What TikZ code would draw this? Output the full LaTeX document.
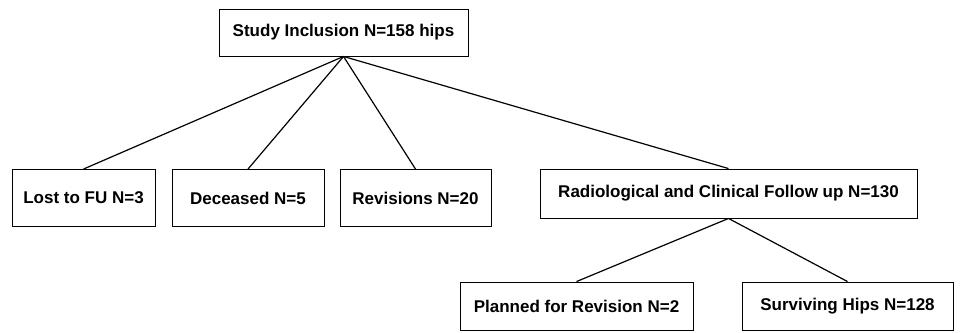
\documentclass[tikz,border=0pt]{standalone}
\usepackage{fontspec}
\setmainfont{Liberation Sans}
\begin{document}
\begin{tikzpicture}[x=1pt,y=-1pt,
  box/.style={draw=black,line width=0.9pt,fill=white,inner sep=0pt,font=\bfseries\fontsize{17}{20}\selectfont},
  link/.style={draw=black,line width=1.2pt}]
\useasboundingbox (0,0) rectangle (976,332);
\node[box,minimum width=249pt,minimum height=47pt] (top) at (343.5,32.5) {Study Inclusion N=158 hips};
\node[box,minimum width=143pt,minimum height=57pt] (lost) at (83.5,198) {Lost to FU N=3};
\node[box,minimum width=152pt,minimum height=57pt] (dec) at (248,198) {Deceased N=5};
\node[box,minimum width=151pt,minimum height=57pt] (rev) at (415.5,198) {Revisions N=20};
\node[box,minimum width=377pt,minimum height=49pt] (rad) at (728.5,193.5) {Radiological and Clinical Follow up N=130};
\node[box,minimum width=233pt,minimum height=48pt] (plan) at (576.5,306) {Planned for Revision N=2};
\node[box,minimum width=211pt,minimum height=48pt] (surv) at (847.5,306) {Surviving Hips N=128};
\draw[link] (top.south) -- (lost.north);
\draw[link] (top.south) -- (dec.north);
\draw[link] (top.south) -- (rev.north);
\draw[link] (top.south) -- (rad.north);
\draw[link] (rad.south) -- (plan.north);
\draw[link] (rad.south) -- (surv.north);
\end{tikzpicture}
\end{document}
